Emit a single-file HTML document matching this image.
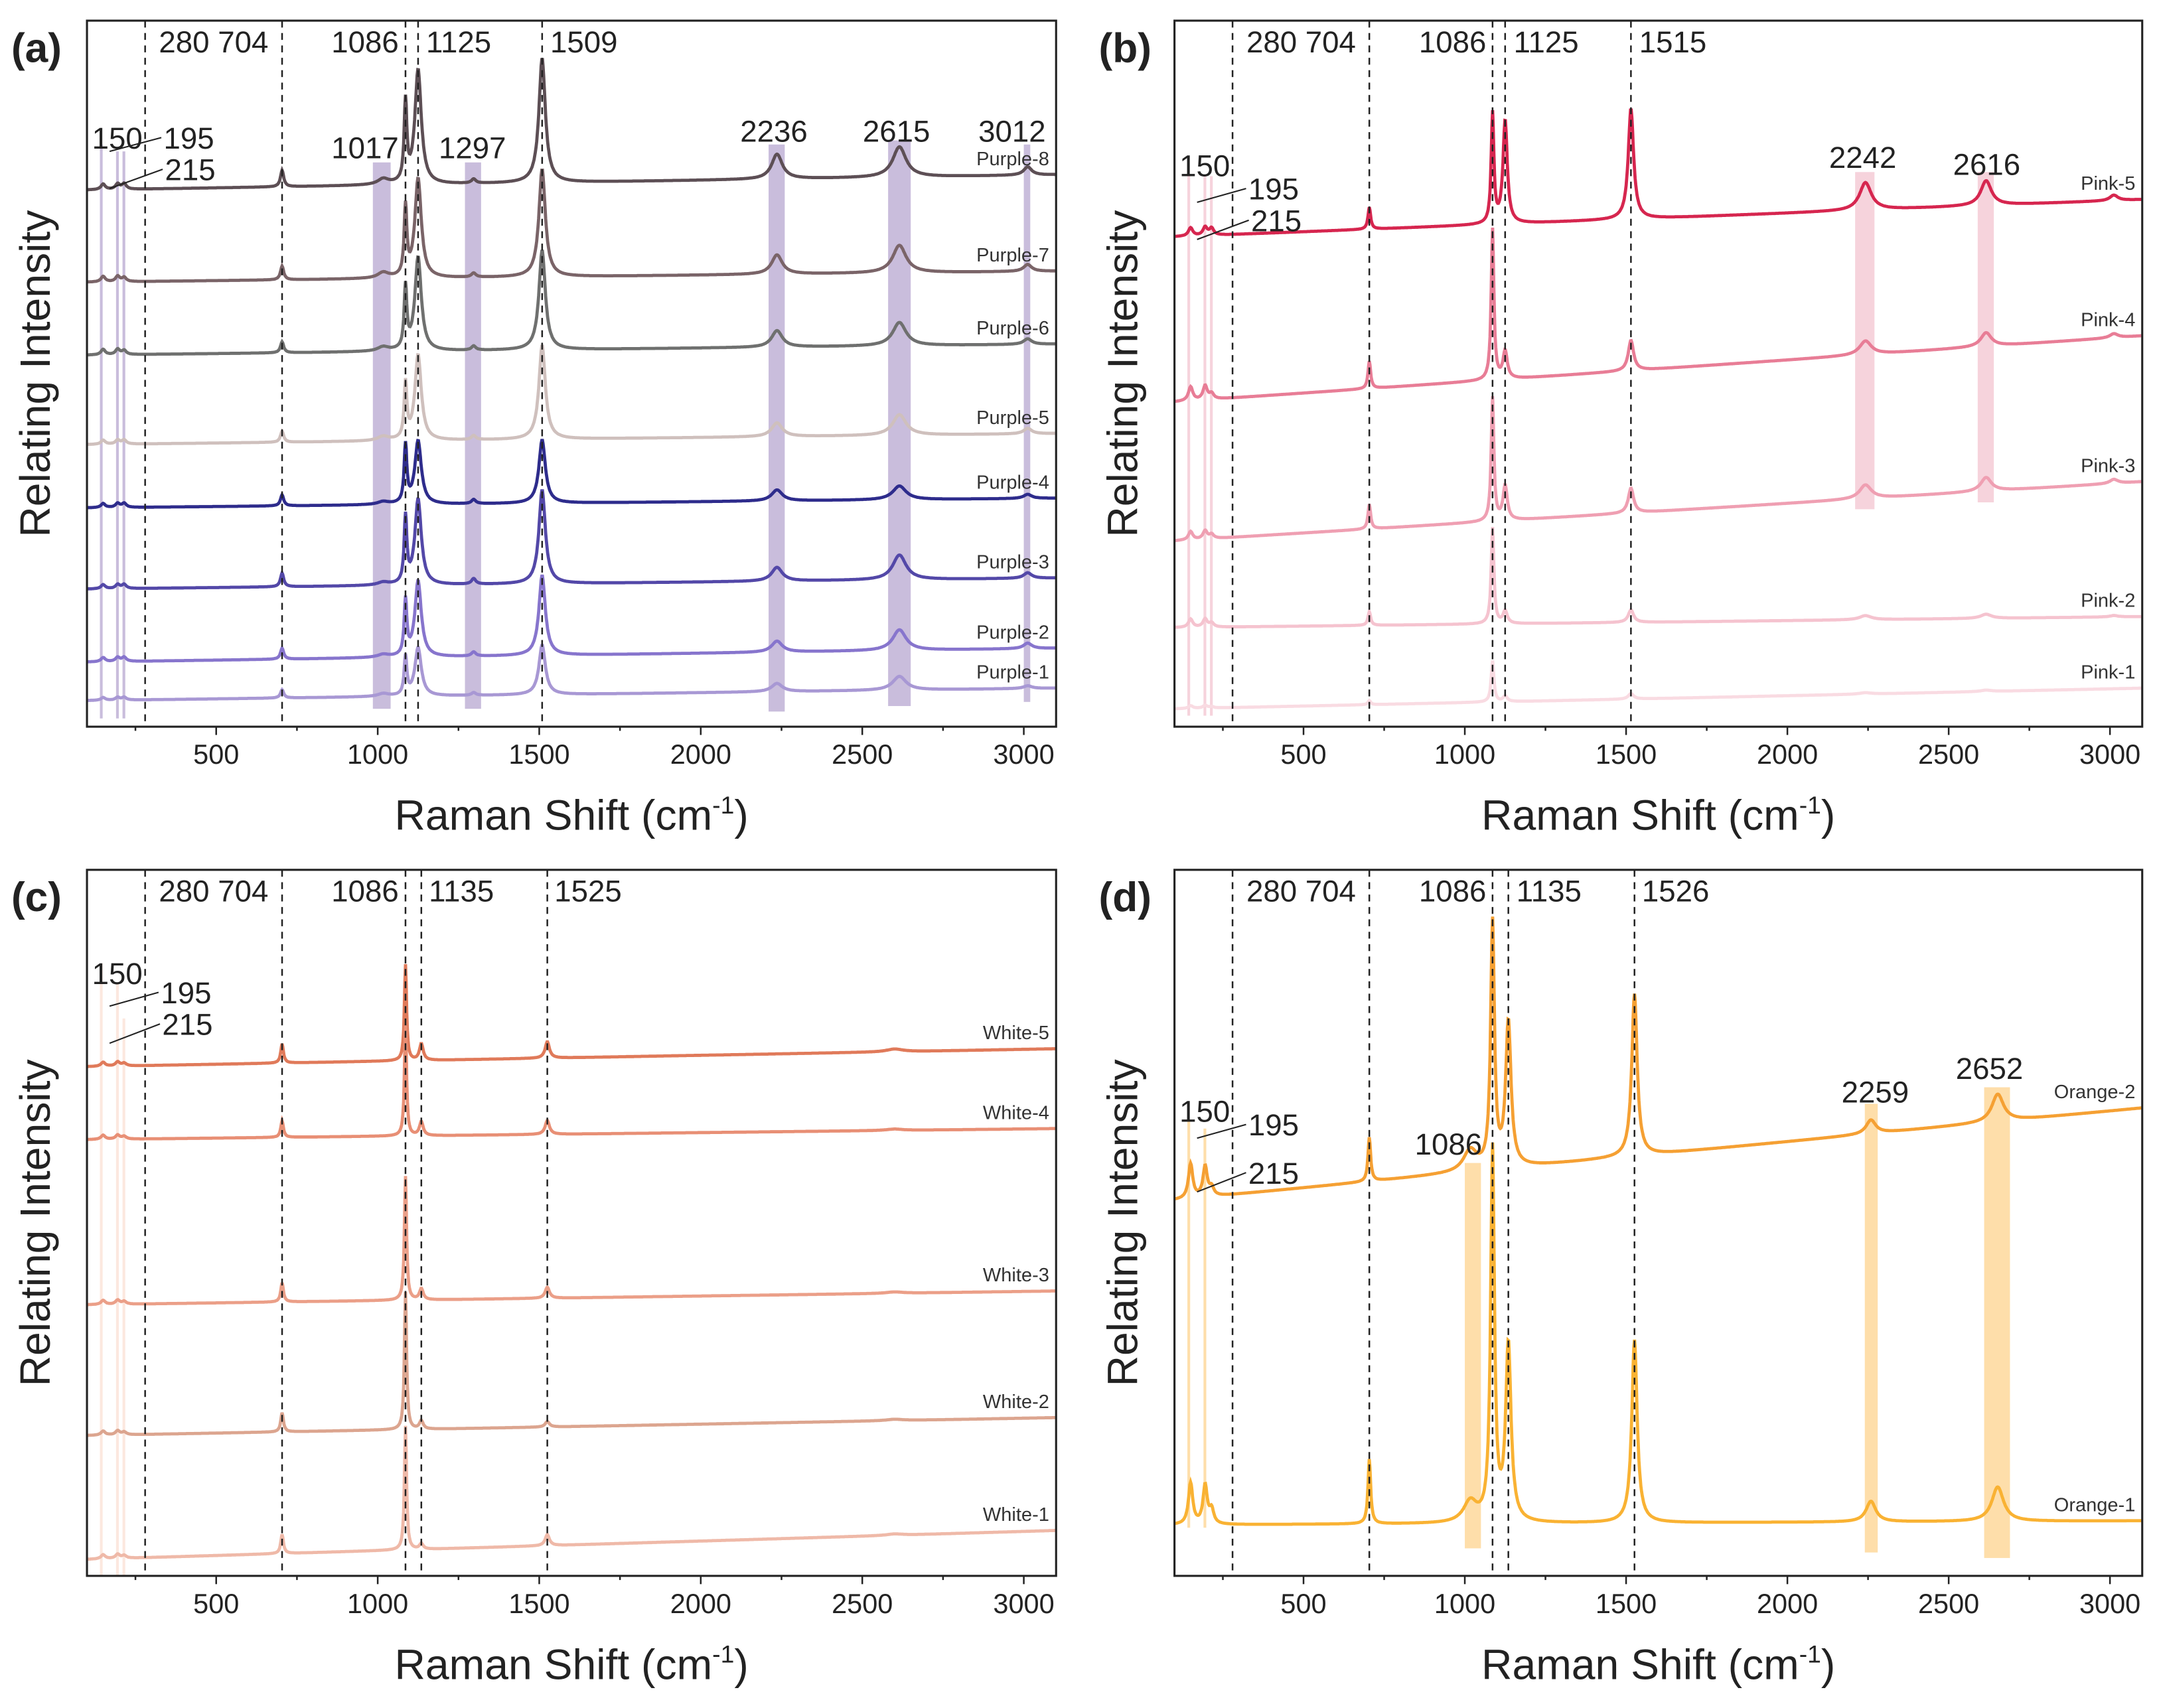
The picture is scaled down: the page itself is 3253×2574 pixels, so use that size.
<!DOCTYPE html>
<html><head><meta charset="utf-8">
<style>
html,body{margin:0;padding:0;background:#fff;}
svg{display:block;}
text{font-family:"Liberation Sans",Arial,sans-serif;}
</style></head>
<body>
<svg id="fig" width="3253" height="2574" viewBox="0 0 1568 1241" xmlns="http://www.w3.org/2000/svg">
<rect width="1568" height="1241" fill="#fff"/>
</svg>
<script>
// ---------- data ----------
const xTicks = [500,1000,1500,2000,2500,3000];
// Panel (a)
const aPeaks = [150,195,215,704,1017,1086,1125,1297,1509,2236,2615,3012];
const aWidths = [8,8,8,6,20,5,12,8,12,20,25,15];
const aNames = ["Purple-8","Purple-7","Purple-6","Purple-5","Purple-4","Purple-3","Purple-2","Purple-1"];
const aBaseStart = [390,323,270,205,159,100,47,19];
const aBaseEnd = [401,331,278,213,166,108,57,28];
const aHeights = [
 [4,4,4,12,4,58,83,3,90,18,22,6],
 [4,4,3,10,4,50,72,3,78,14,20,5],
 [4,4,3,8,3,45,68,3,72,12,17,4],
 [3,3,3,8,3,40,62,3,68,10,15,4],
 [3,3,3,8,2,42,46,3,46,8,10,3],
 [3,3,3,10,2,48,62,4,68,10,18,4],
 [3,3,3,8,2,40,55,3,58,8,15,4],
 [2,2,2,6,2,28,35,2,36,6,10,2]];
const aColors = ["#5d4f55","#7a6468","#6f706f","#cfc0bd","#2e2c8c","#5348a8","#8775cd","#a898d4"];
// Panel (b)
const bPeaks = [150,195,215,704,1086,1125,1515,2242,2616,3012];
const bWidths = [8,8,8,5,5,8,10,22,20,15];
const bNames = ["Pink-5","Pink-4","Pink-3","Pink-2","Pink-1"];
const bBaseStart = [356,236,135,72,13];
const bBaseEnd = [383,284,178,80,28];
const bHeights = [
 [6,6,5,16,80,75,80,20,18,4],
 [10,10,4,20,110,20,22,10,10,3],
 [6,6,3,18,90,25,18,10,10,3],
 [6,6,3,10,70,9,9,3,3,1],
 [2,2,1,3,30,4,4,1,1,0]];
const bColors = ["#d6264f","#e87d96","#ef9fb2","#f5c3cf","#f9dbe2"];
// Panel (c)
const cPeaks = [150,195,215,704,1086,1135,1525,2600];
const cWidths = [8,8,8,5,4,7,8,30];
const cNames = ["White-5","White-4","White-3","White-2","White-1"];
const cBaseStart = [370,317,197,102,12];
const cBaseEnd = [383,325,207,115,33];
const cHeights = [
 [3,3,2,14,70,12,12,2],
 [3,3,2,12,80,10,10,1],
 [3,3,2,14,90,8,8,1],
 [3,3,2,14,100,6,4,1],
 [3,3,2,14,90,4,8,1]];
const cColors = ["#e07a5a","#e88f75","#eb9f88","#dca58f","#efb9a8"];
// Panel (d)
const dPeaks = [150,195,215,704,1017,1086,1135,1526,2259,2652];
const dWidths = [8,8,8,5,25,7,10,10,18,22];
const dNames = ["Orange-2","Orange-1"];
const dBaseStart = [273,37];
const dBaseEnd = [340,40];
const dHeights = [
 [25,22,6,32,15,178,105,118,10,20],
 [30,28,10,47,15,270,128,133,15,25]];
const dColors = ["#f5a033","#f9b233"];

// ---------- drawing ----------
const NS="http://www.w3.org/2000/svg";
const svg=document.getElementById('fig');
function el(tag,attrs,parent){const e=document.createElementNS(NS,tag);for(const k in attrs)e.setAttribute(k,attrs[k]);(parent||svg).appendChild(e);return e;}

const panels=[
 {id:'a',L:63,R:767,T:15,B:528,peaks:aPeaks,widths:aWidths,names:aNames,bs:aBaseStart,be:aBaseEnd,h:aHeights,colors:aColors,
  dashed:[280,704,1086,1125,1509],
  top:[["280 704",155],["1086",265],["1125",333],["1509",424]],
  bands:[[140,146,105,522],[190,198,110,522],[210,218,110,522],[985,1040,118,515],[1270,1320,118,515],[2210,2260,105,517],[2580,2650,102,513],[3000,3020,105,510]],
  bandColor:"#b7a7d0",
  labels:[["150",85,108],["195",137,108],["215",138,131],["1017",265,115],["1297",343,115],["2236",562,103],["2615",651,103],["3012",735,103]]},
 {id:'b',L:853,R:1556,T:15,B:528,peaks:bPeaks,widths:bWidths,names:bNames,bs:bBaseStart,be:bBaseEnd,h:bHeights,colors:bColors,
  dashed:[280,704,1086,1125,1515],
  top:[["280 704",945],["1086",1055],["1125",1123],["1515",1215]],
  bands:[[140,146,128,520],[190,198,128,520],[210,218,128,520],[2210,2270,125,370],[2590,2640,125,365]],
  bandColor:"#f3c4d0",
  labels:[["150",875,128],["195",925,145],["215",927,168],["2242",1353,122],["2616",1443,127]]},
 {id:'c',L:63,R:767,T:632,B:1145,peaks:cPeaks,widths:cWidths,names:cNames,bs:cBaseStart,be:cBaseEnd,h:cHeights,colors:cColors,
  dashed:[280,704,1086,1135,1525],
  top:[["280 704",155],["1086",265],["1135",335],["1525",427]],
  bands:[[140,146,700,1145],[190,198,715,1145],[210,218,740,1145]],
  bandColor:"#fbe0d4",
  labels:[["150",85,715],["195",135,729],["215",136,752]]},
 {id:'d',L:853,R:1556,T:632,B:1145,peaks:dPeaks,widths:dWidths,names:dNames,bs:dBaseStart,be:dBaseEnd,h:dHeights,colors:dColors,
  dashed:[280,704,1086,1135,1526],
  top:[["280 704",945],["1086",1055],["1135",1125],["1526",1217]],
  bands:[[140,146,815,1110],[190,198,820,1110],[1000,1050,845,1125],[2240,2280,802,1128],[2610,2690,790,1132]],
  bandColor:"#fdd38e",
  labels:[["150",875,815],["195",925,825],["215",925,860],["1086",1052,839],["2259",1362,801],["2652",1445,784]]}
];

const X0=100,X1=3100;
panels.forEach(p=>{
  const g=el('g',{});
  
  
  const xs=v=>p.L+(v-X0)/(X1-X0)*(p.R-p.L);
  const ys=v=>p.B-v;
  p.bands.forEach(b=>{
    const r=el('rect',{x:xs(b[0]),y:b[2],width:Math.max(2,xs(b[1])-xs(b[0])),height:b[3]-b[2],fill:p.bandColor,opacity:0.75},g);
    
    
  });
  p.names.forEach((nm,i)=>{
    let d='';
    for(let x=X0;x<=X1;x+=2){
      let v=p.bs[i]+(p.be[i]-p.bs[i])*(x-X0)/(X1-X0);
      p.peaks.forEach((pk,j)=>{const t=(x-pk)/p.widths[j];v+=p.h[i][j]/(1+t*t);});
      d+=(x===X0?'M':'L')+xs(x).toFixed(1)+','+ys(v).toFixed(1);
    }
    const path=el('path',{d:d,fill:'none',stroke:p.colors[i],'stroke-width':2.3},g);
    
    
    const t=el('text',{x:p.R-5,y:ys(p.be[i])-7,'text-anchor':'end','font-size':14,fill:'#333'},g);
    t.textContent=nm;
    
    
  });
  p.dashed.forEach(v=>{
    const l=el('line',{x1:xs(v),x2:xs(v),y1:p.T,y2:p.B,stroke:'#222','stroke-width':1.2,'stroke-dasharray':'5,4'},g);
    
    
  });
  p.top.forEach(t=>{
    const e=el('text',{x:t[1],y:p.T+23,'text-anchor':'middle','font-size':22,fill:'#222'},g);
    e.textContent=t[0];
    
    
  });
  p.labels.forEach(t=>{
    const e=el('text',{x:t[1],y:t[2],'text-anchor':'middle','font-size':22,fill:'#222'},g);
    e.textContent=t[0];
    
    
  });
  const ax=xs(170);
  [[p.labels[1][2]-8],[p.labels[2][2]-8]].forEach((a,k)=>{
    const l=el('line',{x1:ax,y1:a[0]+10+k*4,x2:p.labels[k+1][1]-20,y2:a[0],stroke:'#222','stroke-width':1},g);
    
    
  });
  const fr=el('rect',{x:p.L,y:p.T,width:p.R-p.L,height:p.B-p.T,fill:'none',stroke:'#222','stroke-width':1.5},g);
  
  
  for(let v=250;v<=X1;v+=250){
    if(v<X0)continue;
    const major=v%500===0;
    const l=el('line',{x1:xs(v),x2:xs(v),y1:p.B,y2:p.B+(major?6:3),stroke:'#222','stroke-width':1.2},g);
    
    
  }
  xTicks.forEach(v=>{
    const t=el('text',{x:xs(v),y:p.B+27,'text-anchor':'middle','font-size':20,fill:'#222'},g);
    t.textContent=v;
    
    
  });
  const xt=el('text',{x:(p.L+p.R)/2,y:p.B+75,'text-anchor':'middle','font-size':31,fill:'#222'},g);
  xt.innerHTML='Raman Shift (cm<tspan dy="-12" font-size="18">-1</tspan><tspan dy="12">)</tspan>';
  
  
  const yt=el('text',{x:0,y:0,'text-anchor':'middle','font-size':31,fill:'#222',transform:`translate(${p.L-27},${(p.T+p.B)/2}) rotate(-90)`},g);
  yt.textContent='Relating Intensity';
  
  
  const pl=el('text',{x:p.L-55,y:p.T+30,'font-size':30,'font-weight':'bold',fill:'#222'},g);
  pl.textContent='('+p.id+')';
  
  
});
</script>
</body></html>
